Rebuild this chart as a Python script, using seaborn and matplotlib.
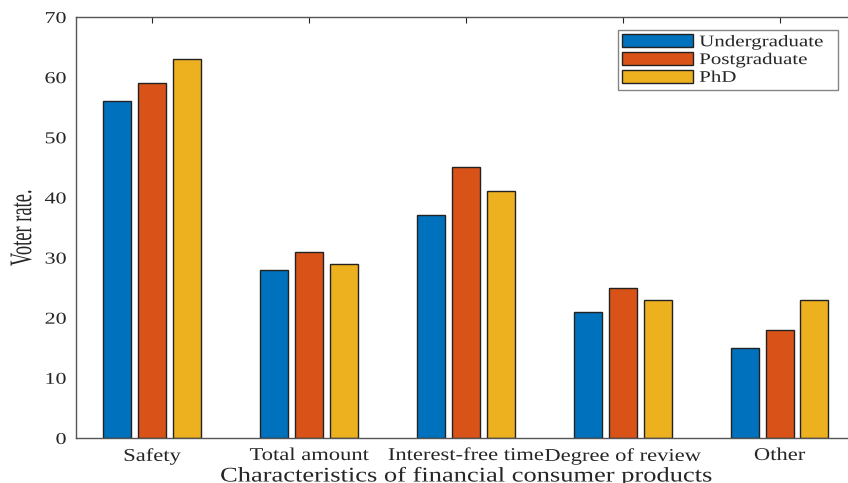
import matplotlib
matplotlib.use("Agg")
import matplotlib.pyplot as plt
from matplotlib.patheffects import AbstractPathEffect
from matplotlib.transforms import Affine2D
import seaborn as sns
import pandas as pd

# Survey results by education level
categories = ["Safety", "Total amount", "Interest-free time", "Degree of review", "Other"]
groups = ["Undergraduate", "Postgraduate", "PhD"]
undergraduate = [56, 28, 37, 21, 15]
postgraduate = [59, 31, 45, 25, 18]
phd = [63, 29, 41, 23, 23]
y_ticks = [0, 10, 20, 30, 40, 50, 60, 70]

colors = ["#0072BD", "#D95319", "#EDB120"]
text_color = "#262626"


class WideText(AbstractPathEffect):
    """Draw text glyphs widened horizontally (in screen space)."""

    def __init__(self, sx, anchor="center"):
        super().__init__()
        self.sx = sx
        self.anchor = anchor

    def draw_path(self, renderer, gc, tpath, affine, rgbFace=None):
        pts = affine.transform(tpath.vertices)
        if len(pts) == 0:
            return
        if self.anchor == "left":
            cx = pts[:, 0].min()
        elif self.anchor == "right":
            cx = pts[:, 0].max()
        else:
            cx = 0.5 * (pts[:, 0].min() + pts[:, 0].max())
        widen = Affine2D().translate(-cx, 0).scale(self.sx, 1.0).translate(cx, 0)
        renderer.draw_path(gc, tpath, affine + widen, rgbFace)


rows = []
for g, vals in zip(groups, [undergraduate, postgraduate, phd]):
    for c, v in zip(categories, vals):
        rows.append({"Category": c, "Group": g, "Value": v})
df = pd.DataFrame(rows)

sns.set_style("white")
plt.rcParams["font.family"] = ["Liberation Serif", "DejaVu Serif"]

fig = plt.figure(figsize=(8.48, 4.83), dpi=100)
ax = fig.add_axes([0.0896, 0.0932, 0.9222, 0.8716])

sns.barplot(data=df, x="Category", y="Value", hue="Group", order=categories,
            hue_order=groups, palette=colors, width=0.667, gap=0.2,
            edgecolor="#222222", linewidth=1.0, saturation=1, ax=ax)

ax.set_xlim(-0.485, 4.5)
ax.set_ylim(0, 70)
ax.set_yticks(y_ticks)

for side in ["left", "bottom", "top", "right"]:
    ax.spines[side].set_color("#555555")
    ax.spines[side].set_linewidth(1.0)

ax.tick_params(axis="both", direction="in", length=4, width=0.8,
               colors=text_color, top=True, right=False)
ax.tick_params(axis="x", labelsize=13, pad=6.5)
ax.tick_params(axis="y", labelsize=12, pad=7)

for lbl in ax.get_xticklabels():
    lbl.set_color(text_color)
    lbl.set_path_effects([WideText(1.25, "center")])
for lbl in ax.get_yticklabels():
    lbl.set_color(text_color)
    lbl.set_path_effects([WideText(1.32, "right")])

ax.set_xlabel("Characteristics of financial consumer products", fontsize=15,
              color=text_color)
ax.xaxis.set_label_coords(0.5, -0.068)
ax.xaxis.label.set_path_effects([WideText(1.27, "center")])

ax.set_ylabel("Voter rate.", fontsize=13.3, color=text_color, va="center")
ax.yaxis.set_label_coords(-0.0684, 0.5)
ax.yaxis.label.set_path_effects([WideText(1.7, "center")])

leg = ax.legend(loc="upper left", bbox_to_anchor=(0.693, 0.8337, 0.2813, 0.1353),
                mode="expand", fontsize=11.7, frameon=True, fancybox=False,
                borderpad=0.25, labelspacing=0.1, handlelength=4.4,
                handleheight=0.86, handletextpad=0.35, borderaxespad=0)
leg.get_frame().set_edgecolor("#666666")
leg.get_frame().set_linewidth(1.0)
for t in leg.get_texts():
    t.set_color(text_color)
    t.set_path_effects([WideText(1.29, "left")])

fig.savefig("out.png", dpi=100)
